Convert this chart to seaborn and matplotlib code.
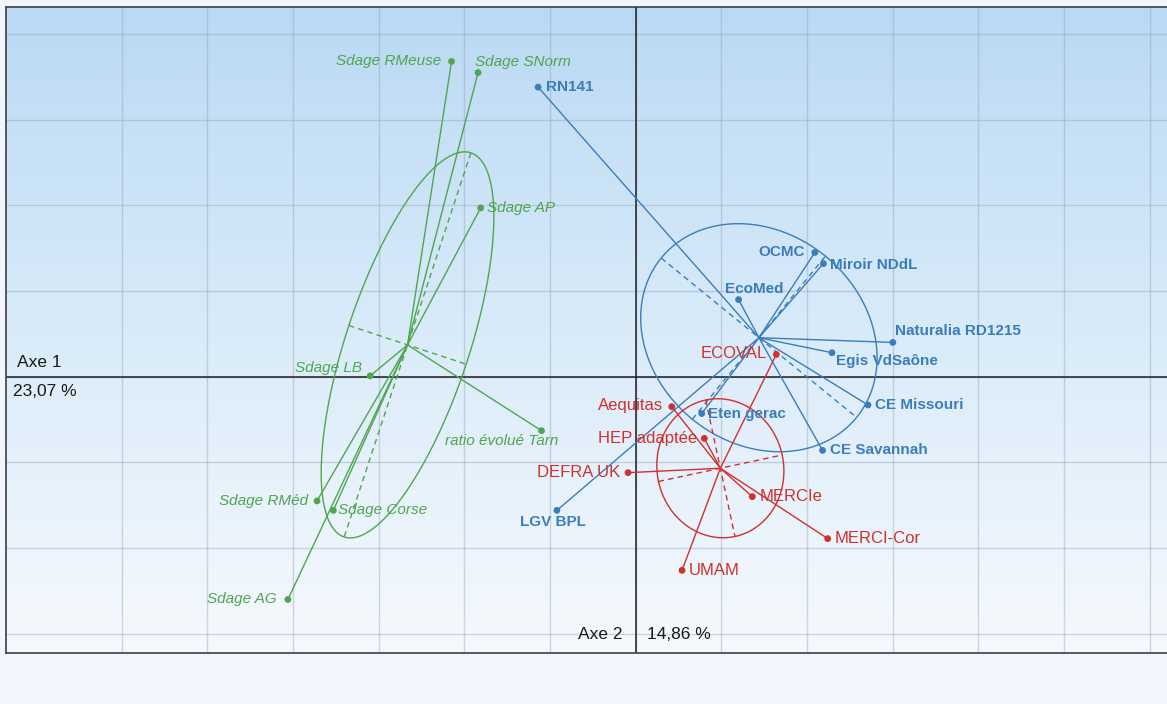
import numpy as np
import pandas as pd
import matplotlib
matplotlib.use('Agg')
import matplotlib.pyplot as plt
from matplotlib.colors import LinearSegmentedColormap
import seaborn as sns

#%% donnees (unite = un carreau de la grille)
noms_sdage = ['Sdage RMeuse', 'Sdage SNorm', 'Sdage AP', 'Sdage LB',
              'ratio évolué Tarn', 'Sdage RMéd', 'Sdage Corse', 'Sdage AG']
x_sdage = [-2.15, -1.84, -1.81, -3.10, -1.10, -3.72, -3.53, -4.06]
y_sdage = [3.68, 3.55, 1.97, 0.01, -0.63, -1.45, -1.56, -2.60]

noms_projets = ['RN141', 'OCMC', 'Miroir NDdL', 'EcoMed', 'Naturalia RD1215',
                'Egis VdSaône', 'CE Missouri', 'CE Savannah', 'Eten gerac', 'LGV BPL']
x_projets = [-1.14, 2.09, 2.19, 1.20, 3.00, 2.29, 2.71, 2.18, 0.77, -0.92]
y_projets = [3.38, 1.45, 1.32, 0.90, 0.40, 0.28, -0.33, -0.86, -0.43, -1.56]

noms_methodes = ['ECOVAL', 'Aequitas', 'HEP adaptée', 'DEFRA UK', 'MERCIe',
                 'MERCI-Cor', 'UMAM']
x_methodes = [1.64, 0.42, 0.80, -0.09, 1.36, 2.24, 0.54]
y_methodes = [0.26, -0.35, -0.72, -1.12, -1.40, -1.89, -2.26]

axe1_nom, axe1_pct = 'Axe 1', '23,07 %'
axe2_nom, axe2_pct = 'Axe 2', '14,86 %'

#%% styles
couleurs = {'sdage': '#4fa64f', 'projets': '#3a7dbd', 'methodes': '#d0312d'}
polices = {'sdage': dict(fontstyle='italic', fontweight='normal', fontsize=11),
           'projets': dict(fontstyle='normal', fontweight='bold', fontsize=11),
           'methodes': dict(fontstyle='normal', fontweight='normal', fontsize=12)}

# decalage des etiquettes en pixels (dx, dy, alignement)
decalages = {
    'Sdage RMeuse': (-10, 0, 'right'), 'Sdage SNorm': (-3, 11, 'left'),
    'Sdage AP': (6, 0, 'left'), 'Sdage LB': (-8, 8, 'right'),
    'ratio évolué Tarn': (17, -10, 'right'), 'Sdage RMéd': (-9, 0, 'right'),
    'Sdage Corse': (5, 0, 'left'), 'Sdage AG': (-11, 0, 'right'),
    'RN141': (8, 0, 'left'), 'OCMC': (-10, 0, 'right'),
    'Miroir NDdL': (7, -1, 'left'), 'EcoMed': (16, 11, 'center'),
    'Naturalia RD1215': (2, 11, 'left'), 'Egis VdSaône': (4, -8, 'left'),
    'CE Missouri': (7, 0, 'left'), 'CE Savannah': (7, 0, 'left'),
    'Eten gerac': (6, 0, 'left'), 'LGV BPL': (-4, -12, 'center'),
    'ECOVAL': (-9, 1, 'right'), 'Aequitas': (-9, 1, 'right'),
    'HEP adaptée': (-7, 0, 'right'), 'DEFRA UK': (-8, 0, 'right'),
    'MERCIe': (7, 0, 'left'), 'MERCI-Cor': (7, 0, 'left'), 'UMAM': (7, 0, 'left'),
}

groupes = {'sdage': (noms_sdage, x_sdage, y_sdage),
           'projets': (noms_projets, x_projets, y_projets),
           'methodes': (noms_methodes, x_methodes, y_methodes)}

df = pd.concat([pd.DataFrame({'nom': n, 'x': x, 'y': y, 'groupe': g})
                for g, (n, x, y) in groupes.items()], ignore_index=True)

#%% figure
sns.set_theme(style='white')
plt.rcParams['font.family'] = ['Liberation Sans', 'DejaVu Sans']

W, H = 1167, 704
fig = plt.figure(figsize=(W / 100, H / 100), dpi=100, facecolor='#f1f6fc')
ax = fig.add_axes([6 / W, 1 - 653 / H, 1 - 6 / W, 646 / H])
xlim = (-7.35, 6.2)
ylim = (-3.225, 4.315)

# fond degrade
fond = LinearSegmentedColormap.from_list('fond', ['#f6f9fd', '#d9ebf9', '#bad9f4'])
ax.imshow(np.linspace(0, 1, 256)[::-1].reshape(-1, 1), cmap=fond, aspect='auto',
          extent=[xlim[0], xlim[1], ylim[0], ylim[1]], zorder=0)
ax.set_xlim(xlim)
ax.set_ylim(ylim)

ax.set_xticks(range(-6, 7))
ax.set_yticks(range(-3, 5))
ax.grid(True, color='#8a9bb0', alpha=0.38, lw=1.0)
ax.tick_params(length=0, labelbottom=False, labelleft=False)
ax.axhline(0, color='#1e1e1e', lw=1.1, zorder=1)
ax.axvline(0, color='#1e1e1e', lw=1.1, zorder=1)
for cote in ['left', 'top', 'bottom']:
    ax.spines[cote].set_color('#3a3f44')
    ax.spines[cote].set_linewidth(1.2)
ax.spines['right'].set_visible(False)

#%% ellipses, axes et rayons
t = np.linspace(0, 2 * np.pi, 300)
for g, (n, x, y) in groupes.items():
    pts = np.column_stack([x, y])
    c = pts.mean(axis=0)
    cov = np.cov(pts.T, bias=True)
    vals, vecs = np.linalg.eigh(cov)
    rayons = np.sqrt(vals)
    ell = c + (vecs @ (rayons[:, None] * np.vstack([np.cos(t), np.sin(t)]))).T
    ax.plot(ell[:, 0], ell[:, 1], color=couleurs[g], lw=1.0, zorder=3)
    for i in range(2):
        a = c + rayons[i] * vecs[:, i]
        b = c - rayons[i] * vecs[:, i]
        ax.plot([a[0], b[0]], [a[1], b[1]], color=couleurs[g], lw=1.0,
                dashes=(4, 3), zorder=3)
    for xi, yi in zip(x, y):
        ax.plot([c[0], xi], [c[1], yi], color=couleurs[g], lw=1.0, zorder=3)

sns.scatterplot(data=df, x='x', y='y', hue='groupe', palette=couleurs, s=24,
                edgecolor='none', legend=False, ax=ax, zorder=5)
ax.set_xlabel('')
ax.set_ylabel('')

for _, r in df.iterrows():
    dx, dy, ha = decalages[r['nom']]
    ax.annotate(r['nom'], (r['x'], r['y']), xytext=(dx, dy),
                textcoords='offset pixels', ha=ha, va='center',
                color=couleurs[r['groupe']], zorder=6, **polices[r['groupe']])

#%% noms des axes
ax.annotate(axe1_nom, (xlim[0], 0), xytext=(11, 14), textcoords='offset pixels',
            ha='left', va='center', fontsize=12.5, color='#1a1a1a')
ax.annotate(axe1_pct, (xlim[0], 0), xytext=(7, -15), textcoords='offset pixels',
            ha='left', va='center', fontsize=12.5, color='#1a1a1a')
ax.annotate(axe2_nom, (0, ylim[0]), xytext=(-13, 19), textcoords='offset pixels',
            ha='right', va='center', fontsize=12.5, color='#1a1a1a')
ax.annotate(axe2_pct, (0, ylim[0]), xytext=(11, 19), textcoords='offset pixels',
            ha='left', va='center', fontsize=12.5, color='#1a1a1a')

fig.savefig('out.png', dpi=100, facecolor=fig.get_facecolor())
